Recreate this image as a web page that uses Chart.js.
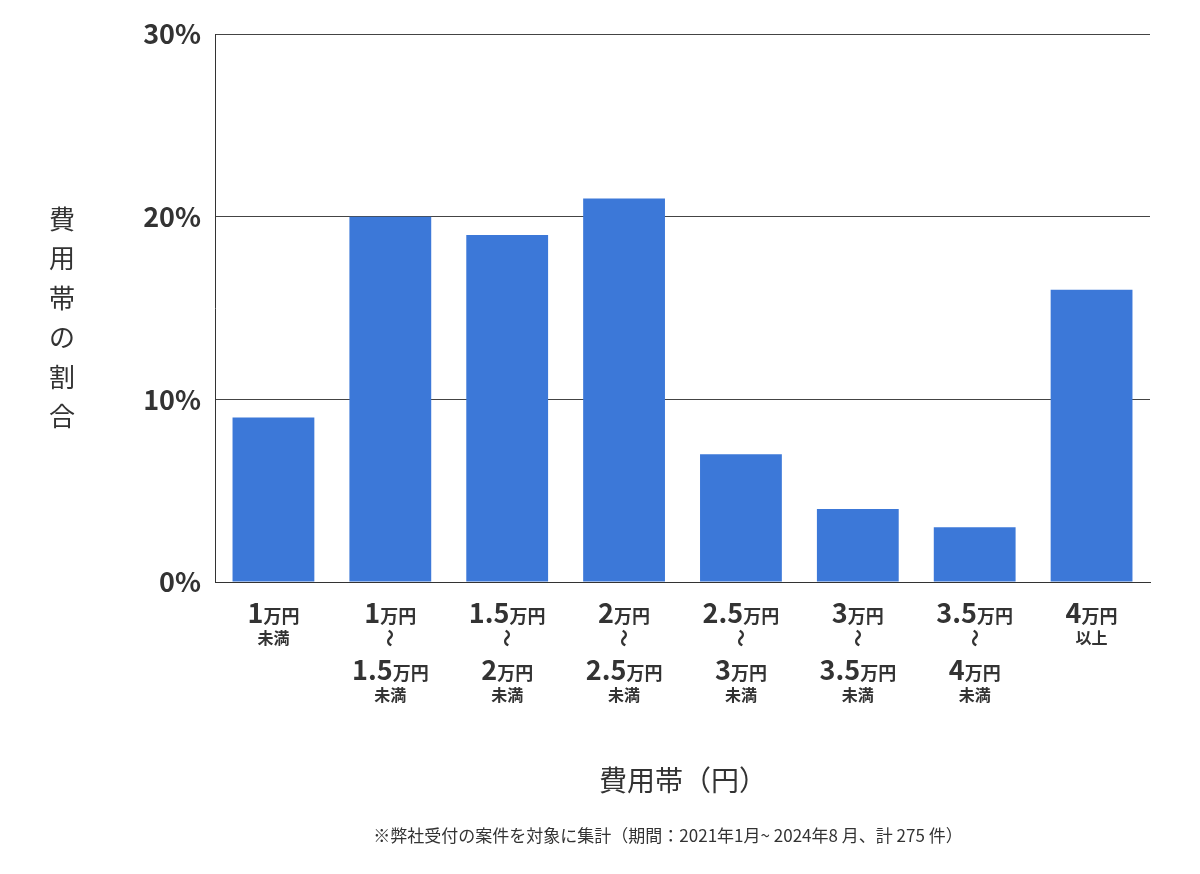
<!DOCTYPE html>
<html><head><meta charset="utf-8">
<script src="https://cdn.jsdelivr.net/npm/chart.js@4"></script>
<style>html,body{margin:0;background:#fff}#w{width:1200px;height:874px}</style>
</head><body><div id="w"><canvas id="c"></canvas></div>
<script>
const categories=["1万円未満","1万円〜1.5万円未満","1.5万円〜2万円未満","2万円〜2.5万円未満","2.5万円〜3万円未満","3万円〜3.5万円未満","3.5万円〜4万円未満","4万円以上"];
const labelFrom=["1","1","1.5","2","2.5","3","3.5","4"];
const labelTo=[null,"1.5","2","2.5","3","3.5","4",null];
const labelTail=["未満","未満","未満","未満","未満","未満","未満","以上"];
const values=[9,20,19,21,7,4,3,16];
const yTicks=[0,10,20,30];
const yTitle="費用帯の割合";
const xTitle="費用帯（円）";
const note="※弊社受付の案件を対象に集計（期間：2021年1月~ 2024年8 月、計 275 件）";
const F='"Noto Sans CJK JP","Noto Sans",sans-serif';
const ink='#333';
function numUnit(ctx,x,y,num){
  ctx.font='bold 27px '+F; const w1=ctx.measureText(num).width;
  ctx.font='bold 18px '+F; const w2=ctx.measureText('万円').width;
  const sx=x-(w1+w2)/2;
  ctx.textAlign='left';ctx.textBaseline='alphabetic';
  ctx.font='bold 27px '+F;ctx.fillText(num,sx,y);
  ctx.font='bold 18px '+F;ctx.fillText('万円',sx+w1,y);
}
const labelPlugin={id:'lab',afterDraw(ch){
  const ctx=ch.ctx,xs=ch.scales.x;ctx.save();ctx.fillStyle=ink;
  categories.forEach((c,i)=>{
    const x=xs.getPixelForTick(i);
    numUnit(ctx,x,623,labelFrom[i]);
    ctx.textAlign='center';
    if(labelTo[i]){
      ctx.save();ctx.translate(x,638);ctx.rotate(Math.PI/2);ctx.font='bold 18px '+F;ctx.textBaseline='middle';ctx.fillText('〜',0,0);ctx.restore();
      numUnit(ctx,x,680,labelTo[i]);
      ctx.textAlign='center';ctx.font='bold 16px '+F;ctx.fillText(labelTail[i],x,701);
    }else{
      ctx.font='bold 16px '+F;ctx.fillText(labelTail[i],x,644);
    }
  });
  ctx.textAlign='center';ctx.textBaseline='middle';ctx.font='26px '+F;
  [...yTitle].forEach((ch2,i)=>ctx.fillText(ch2,62,219+i*39.5));
  ctx.font='28px '+F;ctx.fillText(xTitle,683,780);
  ctx.font='17px '+F;ctx.fillText(note,668,836);
  ctx.restore();
}};
new Chart(document.getElementById('c'),{type:'bar',
data:{labels:categories,datasets:[{data:values,backgroundColor:'#3c78d8',barPercentage:0.7,categoryPercentage:1}]},
options:{responsive:true,maintainAspectRatio:false,animation:false,
layout:{padding:{top:34,right:50,left:0,bottom:0}},
plugins:{legend:{display:false},tooltip:{enabled:false}},
scales:{
 x:{grid:{display:false},border:{color:'#333',width:1},ticks:{display:false},afterFit(s){s.height=292;}},
 y:{min:0,max:30,afterBuildTicks(s){s.ticks=yTicks.map(v=>({value:v}));},
   grid:{color:'#444',drawTicks:false},border:{color:'#333',width:1},
   ticks:{padding:14,color:ink,font:{family:F,size:27,weight:'bold'},callback:v=>v+'%'},
   afterFit(s){s.width=215;}}
}},plugins:[labelPlugin]});
</script></body></html>
